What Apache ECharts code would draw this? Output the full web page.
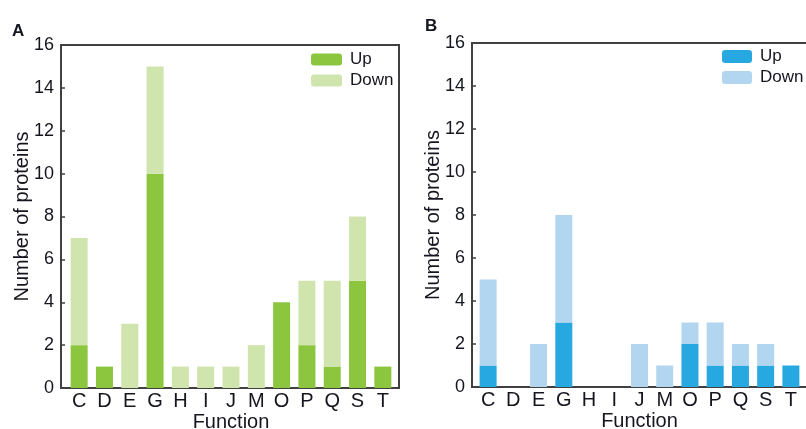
<!DOCTYPE html>
<html>
<head>
<meta charset="utf-8">
<script src="https://cdn.jsdelivr.net/npm/echarts@6/dist/echarts.min.js"></script>
<style>
html,body{margin:0;padding:0;background:#fff;}
#chart{width:806px;height:429px;}
</style>
</head>
<body>
<div id="chart"></div>
<script>
var categories = ['C','D','E','G','H','I','J','M','O','P','Q','S','T'];
var upA   = [2, 1, 0, 10, 0, 0, 0, 0, 4, 2, 1, 5, 1];
var downA = [5, 0, 3, 5, 1, 1, 1, 2, 0, 3, 4, 3, 0];
var upB   = [1, 0, 0, 3, 0, 0, 0, 0, 2, 1, 1, 1, 1];
var downB = [4, 0, 2, 5, 0, 0, 2, 1, 1, 2, 1, 1, 0];
var yTicks = [0, 2, 4, 6, 8, 10, 12, 14, 16];

var FONT = '"Liberation Sans", Arial, sans-serif';
var TXT = '#15151f';
var AX = '#404040';
var greenUp = '#8cc63f', greenDown = '#cfe5ad';
var blueUp = '#27a8e0', blueDown = '#b2d6f0';

var frameA = {left: 61, top: 45, width: 338, height: 343};
var barsA  = {left: 66.5, top: 45, width: 329, height: 343};
var frameB = {left: 472, top: 43, width: 336, height: 344};
var barsB  = {left: 475.5, top: 43, width: 328, height: 344};

function gridOf(r, show) {
  return {left: r.left, top: r.top, width: r.width, height: r.height, show: show,
          borderColor: AX, borderWidth: show ? 2 : 0, backgroundColor: 'transparent',
          containLabel: false, outerBoundsMode: 'none'};
}
function frameY(gi) {
  return {type: 'value', gridIndex: gi, min: yTicks[0], max: yTicks[yTicks.length - 1], interval: 2,
    name: 'Number of proteins', nameLocation: 'middle', nameGap: 29, nameMoveOverlap: false,
    nameTextStyle: {fontFamily: FONT, fontSize: 20, color: TXT},
    axisLine: {show: true, lineStyle: {color: AX, width: 2}},
    axisTick: {show: true, inside: true, length: 4, lineStyle: {color: AX, width: 1.5}},
    axisLabel: {fontFamily: FONT, fontSize: 18, color: TXT, margin: 7},
    splitLine: {show: false}};
}
function hiddenY(gi) {
  return {type: 'value', gridIndex: gi, min: 0, max: 16, show: false, splitLine: {show: false}};
}
function hiddenX(gi) {
  return {type: 'category', gridIndex: gi, data: categories, show: false};
}
function barsX(gi) {
  return {type: 'category', gridIndex: gi, data: categories,
    name: 'Function', nameLocation: 'middle', nameGap: 24, nameMoveOverlap: false,
    nameTextStyle: {fontFamily: FONT, fontSize: 20, color: TXT},
    axisLine: {show: false}, axisTick: {show: false},
    axisLabel: {fontFamily: FONT, fontSize: 20, color: TXT, margin: 3, interval: 0}};
}
function bar(name, data, color, xi, yi, stack) {
  return {type: 'bar', name: name, data: data, stack: stack, xAxisIndex: xi, yAxisIndex: yi,
    barWidth: 17, itemStyle: {color: color}, emphasis: {disabled: true}};
}

var chart = echarts.init(document.getElementById('chart'), null, {renderer: 'canvas'});
chart.setOption({
  animation: false,
  backgroundColor: '#ffffff',
  title: [
    {text: 'A', left: 12, top: 23, padding: 0, textStyle: {fontFamily: FONT, fontSize: 17, fontWeight: 'bold', color: TXT}},
    {text: 'B', left: 425, top: 18, padding: 0, textStyle: {fontFamily: FONT, fontSize: 17, fontWeight: 'bold', color: TXT}}
  ],
  legend: [
    {orient: 'vertical', left: 311, top: 51, padding: 0, itemWidth: 31, itemHeight: 12, itemGap: 4,
     textStyle: {fontFamily: FONT, fontSize: 17, color: TXT, padding: [0, 0, 0, 3]}, selectedMode: false,
     data: [{name: 'Up', itemStyle: {color: greenUp}}, {name: 'Down', itemStyle: {color: greenDown}}]},
    {orient: 'vertical', left: 722, top: 48, padding: 0, itemWidth: 30, itemHeight: 13, itemGap: 4,
     textStyle: {fontFamily: FONT, fontSize: 17, color: TXT, padding: [0, 0, 0, 3]}, selectedMode: false,
     data: [{name: 'Up', itemStyle: {color: blueUp}}, {name: 'Down', itemStyle: {color: blueDown}}]}
  ],
  grid: [gridOf(frameA, true), gridOf(barsA, false), gridOf(frameB, true), gridOf(barsB, false)],
  xAxis: [hiddenX(0), barsX(1), hiddenX(2), barsX(3)],
  yAxis: [frameY(0), hiddenY(1), frameY(2), hiddenY(3)],
  series: [
    bar('Up', upA, greenUp, 1, 1, 'a'),
    bar('Down', downA, greenDown, 1, 1, 'a'),
    bar('Up', upB, blueUp, 3, 3, 'b'),
    bar('Down', downB, blueDown, 3, 3, 'b')
  ]
});
</script>
</body>
</html>
